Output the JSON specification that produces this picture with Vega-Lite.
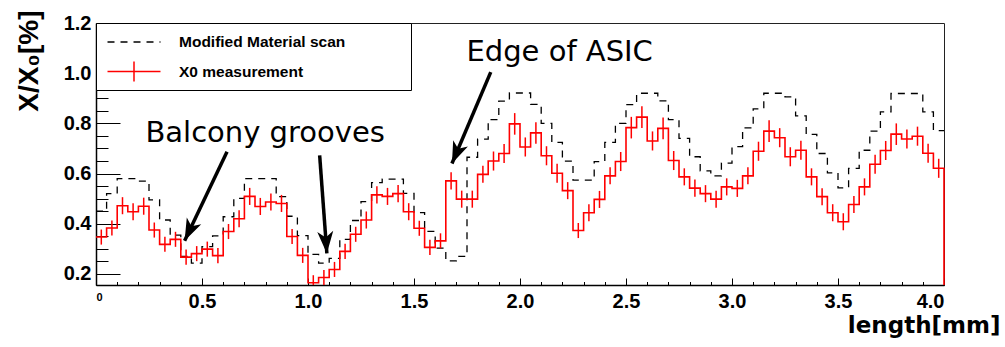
{
  "$schema": "https://vega.github.io/schema/vega-lite/v6.json",
  "width": 848,
  "height": 262,
  "autosize": "none",
  "padding": {"left": 96, "top": 23, "right": 61, "bottom": 62},
  "background": "white",
  "config": {"view": {"stroke": "#222222", "strokeWidth": 1}, "font": "Liberation Sans", "axis": {"labelOverlap": false, "labelBound": false}},
  "datasets": {
    "bins": [
      {"lo": 0.0, "c": 0.025, "red": 0.347, "err": 0.03, "mat": 0.45},
      {"lo": 0.05, "c": 0.075, "red": 0.383, "err": 0.03, "mat": 0.52},
      {"lo": 0.1, "c": 0.125, "red": 0.472, "err": 0.034, "mat": 0.58},
      {"lo": 0.15, "c": 0.175, "red": 0.448, "err": 0.034, "mat": 0.58},
      {"lo": 0.2, "c": 0.225, "red": 0.47, "err": 0.034, "mat": 0.57},
      {"lo": 0.25, "c": 0.275, "red": 0.375, "err": 0.03, "mat": 0.495},
      {"lo": 0.3, "c": 0.325, "red": 0.318, "err": 0.03, "mat": 0.415},
      {"lo": 0.35, "c": 0.375, "red": 0.338, "err": 0.03, "mat": 0.355},
      {"lo": 0.4, "c": 0.425, "red": 0.267, "err": 0.03, "mat": 0.27},
      {"lo": 0.45, "c": 0.475, "red": 0.281, "err": 0.03, "mat": 0.243},
      {"lo": 0.5, "c": 0.525, "red": 0.299, "err": 0.03, "mat": 0.309},
      {"lo": 0.55, "c": 0.575, "red": 0.273, "err": 0.03, "mat": 0.352},
      {"lo": 0.6, "c": 0.625, "red": 0.369, "err": 0.03, "mat": 0.428},
      {"lo": 0.65, "c": 0.675, "red": 0.42, "err": 0.034, "mat": 0.501},
      {"lo": 0.7, "c": 0.725, "red": 0.509, "err": 0.034, "mat": 0.58},
      {"lo": 0.75, "c": 0.775, "red": 0.469, "err": 0.034, "mat": 0.58},
      {"lo": 0.8, "c": 0.825, "red": 0.487, "err": 0.034, "mat": 0.58},
      {"lo": 0.85, "c": 0.875, "red": 0.481, "err": 0.034, "mat": 0.508},
      {"lo": 0.9, "c": 0.925, "red": 0.349, "err": 0.03, "mat": 0.43},
      {"lo": 0.95, "c": 0.975, "red": 0.274, "err": 0.03, "mat": 0.353},
      {"lo": 1.0, "c": 1.025, "red": 0.165, "err": 0.03, "mat": 0.278},
      {"lo": 1.05, "c": 1.075, "red": 0.186, "err": 0.03, "mat": 0.243},
      {"lo": 1.1, "c": 1.125, "red": 0.218, "err": 0.03, "mat": 0.262},
      {"lo": 1.15, "c": 1.175, "red": 0.29, "err": 0.03, "mat": 0.338},
      {"lo": 1.2, "c": 1.225, "red": 0.358, "err": 0.03, "mat": 0.413},
      {"lo": 1.25, "c": 1.275, "red": 0.415, "err": 0.034, "mat": 0.488},
      {"lo": 1.3, "c": 1.325, "red": 0.515, "err": 0.034, "mat": 0.564},
      {"lo": 1.35, "c": 1.375, "red": 0.509, "err": 0.034, "mat": 0.578},
      {"lo": 1.4, "c": 1.425, "red": 0.52, "err": 0.034, "mat": 0.578},
      {"lo": 1.45, "c": 1.475, "red": 0.448, "err": 0.034, "mat": 0.521},
      {"lo": 1.5, "c": 1.525, "red": 0.382, "err": 0.03, "mat": 0.444},
      {"lo": 1.55, "c": 1.575, "red": 0.306, "err": 0.03, "mat": 0.37},
      {"lo": 1.6, "c": 1.625, "red": 0.332, "err": 0.03, "mat": 0.303},
      {"lo": 1.65, "c": 1.675, "red": 0.571, "err": 0.034, "mat": 0.252},
      {"lo": 1.7, "c": 1.725, "red": 0.498, "err": 0.034, "mat": 0.27},
      {"lo": 1.75, "c": 1.775, "red": 0.498, "err": 0.034, "mat": 0.665},
      {"lo": 1.8, "c": 1.825, "red": 0.597, "err": 0.034, "mat": 0.737},
      {"lo": 1.85, "c": 1.875, "red": 0.65, "err": 0.038, "mat": 0.815},
      {"lo": 1.9, "c": 1.925, "red": 0.68, "err": 0.038, "mat": 0.889},
      {"lo": 1.95, "c": 1.975, "red": 0.798, "err": 0.043, "mat": 0.921},
      {"lo": 2.0, "c": 2.025, "red": 0.706, "err": 0.038, "mat": 0.921},
      {"lo": 2.05, "c": 2.075, "red": 0.762, "err": 0.043, "mat": 0.876},
      {"lo": 2.1, "c": 2.125, "red": 0.671, "err": 0.038, "mat": 0.8},
      {"lo": 2.15, "c": 2.175, "red": 0.601, "err": 0.038, "mat": 0.724},
      {"lo": 2.2, "c": 2.225, "red": 0.532, "err": 0.034, "mat": 0.65},
      {"lo": 2.25, "c": 2.275, "red": 0.373, "err": 0.03, "mat": 0.574},
      {"lo": 2.3, "c": 2.325, "red": 0.444, "err": 0.034, "mat": 0.574},
      {"lo": 2.35, "c": 2.375, "red": 0.497, "err": 0.034, "mat": 0.648},
      {"lo": 2.4, "c": 2.425, "red": 0.591, "err": 0.034, "mat": 0.724},
      {"lo": 2.45, "c": 2.475, "red": 0.648, "err": 0.038, "mat": 0.8},
      {"lo": 2.5, "c": 2.525, "red": 0.783, "err": 0.043, "mat": 0.875},
      {"lo": 2.55, "c": 2.575, "red": 0.825, "err": 0.043, "mat": 0.92},
      {"lo": 2.6, "c": 2.625, "red": 0.73, "err": 0.038, "mat": 0.92},
      {"lo": 2.65, "c": 2.675, "red": 0.78, "err": 0.043, "mat": 0.89},
      {"lo": 2.7, "c": 2.725, "red": 0.652, "err": 0.038, "mat": 0.815},
      {"lo": 2.75, "c": 2.775, "red": 0.587, "err": 0.034, "mat": 0.74},
      {"lo": 2.8, "c": 2.825, "red": 0.542, "err": 0.034, "mat": 0.667},
      {"lo": 2.85, "c": 2.875, "red": 0.52, "err": 0.034, "mat": 0.611},
      {"lo": 2.9, "c": 2.925, "red": 0.498, "err": 0.034, "mat": 0.591},
      {"lo": 2.95, "c": 2.975, "red": 0.547, "err": 0.034, "mat": 0.642},
      {"lo": 3.0, "c": 3.025, "red": 0.541, "err": 0.034, "mat": 0.707},
      {"lo": 3.05, "c": 3.075, "red": 0.591, "err": 0.034, "mat": 0.782},
      {"lo": 3.1, "c": 3.125, "red": 0.689, "err": 0.038, "mat": 0.858},
      {"lo": 3.15, "c": 3.175, "red": 0.769, "err": 0.043, "mat": 0.92},
      {"lo": 3.2, "c": 3.225, "red": 0.743, "err": 0.038, "mat": 0.92},
      {"lo": 3.25, "c": 3.275, "red": 0.667, "err": 0.038, "mat": 0.906},
      {"lo": 3.3, "c": 3.325, "red": 0.693, "err": 0.038, "mat": 0.83},
      {"lo": 3.35, "c": 3.375, "red": 0.587, "err": 0.034, "mat": 0.756},
      {"lo": 3.4, "c": 3.425, "red": 0.508, "err": 0.034, "mat": 0.68},
      {"lo": 3.45, "c": 3.475, "red": 0.444, "err": 0.034, "mat": 0.603},
      {"lo": 3.5, "c": 3.525, "red": 0.408, "err": 0.034, "mat": 0.543},
      {"lo": 3.55, "c": 3.575, "red": 0.477, "err": 0.034, "mat": 0.621},
      {"lo": 3.6, "c": 3.625, "red": 0.547, "err": 0.034, "mat": 0.693},
      {"lo": 3.65, "c": 3.675, "red": 0.637, "err": 0.038, "mat": 0.769},
      {"lo": 3.7, "c": 3.725, "red": 0.692, "err": 0.038, "mat": 0.846},
      {"lo": 3.75, "c": 3.775, "red": 0.757, "err": 0.043, "mat": 0.919},
      {"lo": 3.8, "c": 3.825, "red": 0.738, "err": 0.038, "mat": 0.919},
      {"lo": 3.85, "c": 3.875, "red": 0.749, "err": 0.038, "mat": 0.919},
      {"lo": 3.9, "c": 3.925, "red": 0.681, "err": 0.038, "mat": 0.846},
      {"lo": 3.95, "c": 3.975, "red": 0.621, "err": 0.038, "mat": 0.771},
      {"lo": 4.0, "red": 0.621, "mat": 0.771},
      {"lo": 4.0, "red": 0.156}
    ],
    "arrows": [
      {"id": 1, "x": 0.618, "y": 0.687, "tx": 0.418, "ty": 0.332},
      {"id": 2, "x": 1.055, "y": 0.673, "tx": 1.089, "ty": 0.282},
      {"id": 3, "x": 1.862, "y": 1.004, "tx": 1.679, "ty": 0.64}
    ],
    "notes": [
      {"x": 0.798, "y": 0.726, "label": "Balcony grooves"},
      {"x": 2.187, "y": 1.048, "label": "Edge of ASIC"}
    ]
  },
  "layer": [
    {
      "data": {"name": "bins"},
      "mark": {"type": "line", "interpolate": "step-after", "strokeDash": [7, 6], "strokeWidth": 1.3, "clip": true},
      "encoding": {
        "x": {
          "field": "lo", "type": "quantitative", "title": "length[mm]",
          "scale": {"domain": [0, 4], "nice": false, "zero": false},
          "axis": {
            "values": [0,0.1,0.2,0.3,0.4,0.5,0.6,0.7,0.8,0.9,1,1.1,1.2,1.3,1.4,1.5,1.6,1.7,1.8,1.9,2,2.1,2.2,2.3,2.4,2.5,2.6,2.7,2.8,2.9,3,3.1,3.2,3.3,3.4,3.5,3.6,3.7,3.8,3.9,4],
            "tickCount": 1000,
            "labelExpr": "datum.value == 0 ? '0' : (abs(datum.value*2 - round(datum.value*2)) < 0.001 ? format(datum.value, '.1f') : '')",
            "labelFont": "Liberation Sans", "labelFontWeight": "bold",
            "labelFontSize": {"condition": {"test": "datum.value == 0", "value": 11}, "value": 20},
            "labelColor": "black", "labelPadding": 13, "labelOverlap": false,
            "tickSize": {"condition": {"test": "abs(datum.value*2 - round(datum.value*2)) < 0.001", "value": -7}, "value": -3.5},
            "tickColor": "black", "tickWidth": 1,
            "domainColor": "black", "domainWidth": 1.5, "grid": false,
            "titleFont": "DejaVu Sans", "titleFontWeight": "bold", "titleFontSize": 23,
            "titleColor": "black", "titleAlign": "right", "titleBaseline": "alphabetic", "titleX": 904, "titleY": 47
          }
        },
        "y": {
          "field": "mat", "type": "quantitative", "title": "X/X₀[%]",
          "scale": {"domain": [0.156, 1.2], "nice": false, "zero": false},
          "axis": {
            "values": [0.2,0.25,0.3,0.35,0.4,0.45,0.5,0.55,0.6,0.65,0.7,0.75,0.8,0.85,0.9,0.95,1,1.05,1.1,1.15,1.2],
            "tickCount": 1000,
            "labelExpr": "abs(datum.value*5 - round(datum.value*5)) < 0.001 ? format(datum.value, '.1f') : ''",
            "labelFont": "Liberation Sans", "labelFontWeight": "bold", "labelFontSize": 20, "labelColor": "black",
            "labelPadding": 29, "labelOverlap": false, "labelFlush": false,
            "tickSize": {"condition": {"test": "abs(datum.value*5 - round(datum.value*5)) < 0.001", "value": -24}, "value": -12},
            "tickColor": "black", "tickWidth": 1,
            "domainColor": "black", "domainWidth": 1.5, "grid": false,
            "titleFont": "Liberation Sans", "titleFontWeight": "bold", "titleFontSize": 28,
            "titleColor": "black", "titleAngle": -90, "titleAlign": "right", "titleBaseline": "alphabetic", "titleX": -59, "titleY": -13
          }
        },
        "color": {
          "datum": "Modified Material scan",
          "scale": {"domain": ["Modified Material scan", "X0 measurement"], "range": ["black", "#ff0000"]},
          "legend": {
            "orient": "none", "legendX": 0, "legendY": 0, "title": null,
            "fillColor": "white", "strokeColor": "black", "padding": 5,
            "symbolType": "M-2,0L2,0", "symbolSize": 702, "symbolStrokeWidth": 1.5, "symbolOffset": 19,
            "labelFont": "Liberation Sans", "labelFontWeight": "bold", "labelFontSize": 15.5, "labelColor": "black",
            "labelOffset": 31, "rowPadding": 6.5, "labelLimit": 800,
            "labelExpr": "datum.label + '\u2800\u2800\u2800\u2800\u2800'",
            "encode": {
              "symbols": {
                "update": {
                  "shape": {"signal": "datum.value === 'X0 measurement' ? 'M-2,0L2,0M0,-0.75L0,0.75' : 'M-2,0L2,0'"},
                  "strokeDash": {"signal": "datum.value === 'X0 measurement' ? [1,0] : [7,6]"},
                  "stroke": {"signal": "datum.value === 'X0 measurement' ? '#ff0000' : 'black'"},
                  "fill": {"value": "transparent"},
                  "strokeWidth": {"value": 1.5}
                }
              }
            }
          }
        }
      }
    },
    {
      "data": {"name": "bins"},
      "mark": {"type": "line", "interpolate": "step-after", "strokeWidth": 1.6, "clip": false},
      "encoding": {
        "x": {"field": "lo", "type": "quantitative", "title": "length[mm]"},
        "y": {"field": "red", "type": "quantitative", "title": "X/X₀[%]"},
        "color": {"datum": "X0 measurement"}
      }
    },
    {
      "data": {"name": "bins"},
      "transform": [{"filter": "isValid(datum.err)"}],
      "mark": {"type": "errorbar", "color": "#ff0000", "thickness": 1.5, "clip": true},
      "encoding": {
        "x": {"field": "c", "type": "quantitative", "title": "length[mm]"},
        "y": {"field": "red", "type": "quantitative", "title": "X/X₀[%]"},
        "yError": {"field": "err"}
      }
    },
    {
      "data": {"name": "arrows"},
      "mark": {"type": "rule", "color": "black", "strokeWidth": 3.5, "strokeCap": "butt"},
      "encoding": {
        "x": {"field": "x", "type": "quantitative", "title": "length[mm]"},
        "y": {"field": "y", "type": "quantitative", "title": "X/X₀[%]"},
        "x2": {"field": "tx"},
        "y2": {"field": "ty"}
      }
    },
    {
      "data": {"name": "arrows"},
      "transform": [{"filter": "datum.id == 1"}],
      "mark": {"type": "point", "shape": "M0,0L0.8,2.2L0,1.6L-0.8,2.2Z", "size": 400, "filled": true, "color": "black", "opacity": 1, "angle": 205.3},
      "encoding": {
        "x": {"field": "tx", "type": "quantitative", "title": "length[mm]"},
        "y": {"field": "ty", "type": "quantitative", "title": "X/X₀[%]"}
      }
    },
    {
      "data": {"name": "arrows"},
      "transform": [{"filter": "datum.id == 2"}],
      "mark": {"type": "point", "shape": "M0,0L0.8,2.2L0,1.6L-0.8,2.2Z", "size": 400, "filled": true, "color": "black", "opacity": 1, "angle": 175.8},
      "encoding": {
        "x": {"field": "tx", "type": "quantitative", "title": "length[mm]"},
        "y": {"field": "ty", "type": "quantitative", "title": "X/X₀[%]"}
      }
    },
    {
      "data": {"name": "arrows"},
      "transform": [{"filter": "datum.id == 3"}],
      "mark": {"type": "point", "shape": "M0,0L0.8,2.2L0,1.6L-0.8,2.2Z", "size": 400, "filled": true, "color": "black", "opacity": 1, "angle": 203},
      "encoding": {
        "x": {"field": "tx", "type": "quantitative", "title": "length[mm]"},
        "y": {"field": "ty", "type": "quantitative", "title": "X/X₀[%]"}
      }
    },
    {
      "data": {"name": "notes"},
      "mark": {"type": "text", "font": "DejaVu Sans", "fontSize": 29, "align": "center", "baseline": "alphabetic", "color": "black"},
      "encoding": {
        "x": {"field": "x", "type": "quantitative", "title": "length[mm]"},
        "y": {"field": "y", "type": "quantitative", "title": "X/X₀[%]"},
        "text": {"field": "label"}
      }
    }
  ]
}
